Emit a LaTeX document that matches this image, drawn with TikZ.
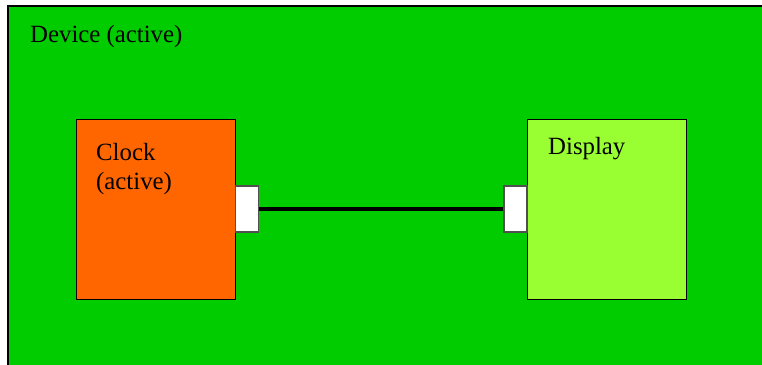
\documentclass[tikz,border=0pt]{standalone}
\usepackage{fontspec}
\setmainfont{Liberation Serif}
\definecolor{devgreen}{HTML}{00CC00}
\definecolor{clockorange}{HTML}{FF6600}
\definecolor{displime}{HTML}{99FF33}
\definecolor{portedge}{HTML}{505050}
\tikzset{
  block/.style={draw=black, line width=1pt},
  port/.style={draw=portedge, fill=white, line width=1.2pt},
  label/.style={anchor=base west, inner sep=0pt, font=\fontsize{24.8}{29}\selectfont, align=left},
  wire/.style={draw=black, line width=3.2pt}
}
\begin{document}
\begin{tikzpicture}[x=1pt, y=-1pt]
  \useasboundingbox (0,0) rectangle (762,364);
  \fill[white] (0,0) rectangle (762,364);
  % device frame (right and bottom edges lie outside the page)
  \begin{scope}
    \clip (0,0) rectangle (762,364);
    \draw[fill=devgreen, line width=1.5pt] (8,6) rectangle (780,380);
  \end{scope}
  \node[label] (devlabel) at (30,42) {Device (active)};

  % clock block and its port
  \draw[block, fill=clockorange] (76,119) rectangle (235,299);
  % base anchor of a two-line label is the baseline of its last line
  \node[label] (clocklabel) at (96,189) {Clock\\(active)};
  \node[port, minimum width=23pt, minimum height=46pt, inner sep=0pt, anchor=west] (clockport) at (234.5,209) {};

  % display block and its port
  \draw[block, fill=displime] (527,119) rectangle (686,299);
  \node[label] (displabel) at (548,154) {Display};
  \node[port, minimum width=23pt, minimum height=46pt, inner sep=0pt, anchor=east] (dispport) at (527.5,209) {};

  % connection between the ports
  \draw[wire] (clockport.east) -- (dispport.west);
\end{tikzpicture}
\end{document}
